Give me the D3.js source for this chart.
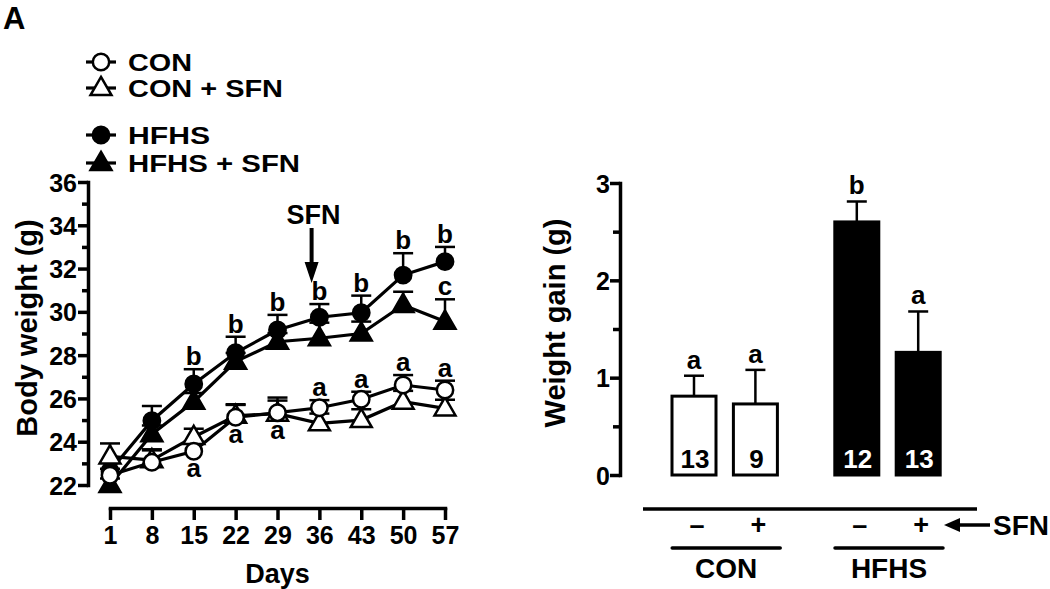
<!DOCTYPE html>
<html>
<head>
<meta charset="utf-8">
<script src="https://cdn.jsdelivr.net/npm/d3@7"></script>
<style>
  html, body { margin: 0; padding: 0; background: #fff; }
  svg { display: block; }
  text { font-family: "Liberation Sans", Arial, Helvetica, sans-serif; font-weight: bold; fill: #000; }
</style>
</head>
<body>
<svg id="chart" width="1050" height="589"></svg>
<script>
// ---------------- data ----------------
const days = [1, 8, 15, 22, 29, 36, 43, 50, 57];
const seriesNames = ["CON", "CON + SFN", "HFHS", "HFHS + SFN"];
const conMean     = [22.45, 23.05, 23.56, 25.13, 25.34, 25.57, 25.96, 26.62, 26.39];
const conErr      = [0.30, 0.60, 0.45, 0.60, 0.70, 0.35, 0.35, 0.46, 0.43];
const conSfnMean  = [23.32, 23.15, 24.22, 25.20, 25.30, 24.85, 25.00, 25.85, 25.54];
const conSfnErr   = [0.60, 0.45, 0.38, 0.50, 0.60, 0.45, 0.50, 0.50, 0.40];
const hfhsMean    = [22.65, 24.97, 26.67, 28.11, 29.16, 29.75, 29.96, 31.70, 32.32];
const hfhsErr     = [0.42, 0.68, 0.68, 0.74, 0.70, 0.61, 0.79, 1.01, 0.68];
const hfhsSfnMean = [22.00, 24.35, 25.85, 27.70, 28.62, 28.78, 29.00, 30.32, 29.55];
const hfhsSfnErr  = [0.30, 0.40, 0.40, 0.40, 0.40, 0.72, 0.55, 0.61, 1.03];
const bwTicks = [22, 24, 26, 28, 30, 32, 34, 36];
const bwMinorTicks = [23, 25, 27, 29, 31, 33, 35];
const sfnStartDay = 34.7;
const lettersAbove = [
  { s: 2, day: 15, t: "b" }, { s: 2, day: 22, t: "b" }, { s: 2, day: 29, t: "b" },
  { s: 2, day: 36, t: "b" }, { s: 2, day: 43, t: "b" }, { s: 2, day: 50, t: "b" },
  { s: 2, day: 57, t: "b" }, { s: 3, day: 57, t: "c" },
  { s: 0, day: 36, t: "a" }, { s: 0, day: 43, t: "a" }, { s: 0, day: 50, t: "a" },
  { s: 0, day: 57, t: "a" }
];
const lettersBelow = [ { s: 0, day: 15, t: "a" }, { s: 0, day: 22, t: "a" }, { s: 0, day: 29, t: "a" } ];

const barGroups = ["CON", "CON", "HFHS", "HFHS"];
const barSfn = ["\u2013", "+", "\u2013", "+"];
const gainMean = [0.81, 0.73, 2.60, 1.26];
const gainErr = [0.21, 0.35, 0.21, 0.42];
const barN = ["13", "9", "12", "13"];
const barLetters = ["a", "a", "b", "a"];
const gainTicks = [0, 1, 2, 3];
const gainMinorTicks = [0.5, 1.5, 2.5];

// ---------------- setup ----------------
const svg = d3.select("#chart");
const means = [conMean, conSfnMean, hfhsMean, hfhsSfnMean];
const errs = [conErr, conSfnErr, hfhsErr, hfhsSfnErr];
const filled = [false, false, true, true];
const shapes = [d3.symbolCircle, d3.symbolTriangle, d3.symbolCircle, d3.symbolTriangle];
const shapeSize = [210, 190, 210, 190];

svg.append("text").attr("x", 3).attr("y", 29).attr("font-size", 31).text("A");

// ---------------- left: body weight ----------------
const x = d3.scaleLinear().domain([1, 57]).range([110, 445]);
const y = d3.scaleLinear().domain([22, 36]).range([485, 182]);

const gL = svg.append("g");

function styleAxis(g, w) {
  g.select(".domain").attr("stroke", "#000").attr("stroke-width", w).attr("stroke-linecap", "square");
  g.selectAll(".tick line").attr("stroke", "#000").attr("stroke-width", w);
}

// y axis
const yAx = gL.append("g").attr("transform", "translate(88,0)")
  .call(d3.axisLeft(y).tickValues(bwTicks).tickSize(10).tickSizeOuter(0).tickPadding(1));
styleAxis(yAx, 3.5);
yAx.selectAll("text").attr("font-size", 25).attr("font-family", null).attr("dy", "0.36em");
const yAxMin = gL.append("g").attr("transform", "translate(88,0)")
  .call(d3.axisLeft(y).tickValues(bwMinorTicks).tickSize(6).tickFormat(""));
yAxMin.select(".domain").remove();
yAxMin.selectAll(".tick line").attr("stroke", "#000").attr("stroke-width", 3.5);

// x axis (offset)
const xAx = gL.append("g").attr("transform", "translate(0,508)")
  .call(d3.axisBottom(x).tickValues(days).tickSize(12).tickSizeOuter(0).tickPadding(6));
styleAxis(xAx, 3.5);
xAx.selectAll("text").attr("font-size", 25).attr("font-family", null);

gL.append("text").attr("x", (x(1) + x(57)) / 2).attr("y", 583).attr("text-anchor", "middle")
  .attr("font-size", 27).text("Days");
gL.append("text").attr("transform", "translate(37,328) rotate(-90)").attr("text-anchor", "middle")
  .attr("font-size", 29).text("Body weight (g)");

// error bars
const order = [3, 2, 1, 0];
order.forEach(s => {
  const g = gL.append("g");
  days.forEach((d, i) => {
    const yc = y(means[s][i]), ye = y(means[s][i] + errs[s][i]);
    g.append("line").attr("x1", x(d)).attr("x2", x(d)).attr("y1", yc).attr("y2", ye)
      .attr("stroke", "#000").attr("stroke-width", 2.5);
    g.append("line").attr("x1", x(d) - 10).attr("x2", x(d) + 10).attr("y1", ye).attr("y2", ye)
      .attr("stroke", "#000").attr("stroke-width", 2.5);
  });
});
// lines
const lineGen = d3.line().x(d => x(d[0])).y(d => y(d[1]));
order.forEach(s => {
  gL.append("path").datum(days.map((d, i) => [d, means[s][i]]))
    .attr("d", lineGen).attr("fill", "none").attr("stroke", "#000").attr("stroke-width", 3.2);
});
// markers
order.forEach(s => {
  gL.append("g").selectAll("path").data(days.map((d, i) => [d, means[s][i]])).join("path")
    .attr("transform", d => `translate(${x(d[0])},${y(d[1]) + (shapes[s] === d3.symbolTriangle ? 1 : 0)})`)
    .attr("d", d3.symbol().type(shapes[s]).size(shapeSize[s]))
    .attr("fill", filled[s] ? "#000" : "#fff").attr("stroke", "#000").attr("stroke-width", 2.5);
});
// significance letters
gL.append("g").selectAll("text").data(lettersAbove).join("text")
  .attr("x", d => x(d.day)).attr("text-anchor", "middle").attr("font-size", 26)
  .attr("y", d => { const i = days.indexOf(d.day); return y(means[d.s][i] + errs[d.s][i]) - 4; })
  .text(d => d.t);
gL.append("g").selectAll("text").data(lettersBelow).join("text")
  .attr("x", d => x(d.day)).attr("text-anchor", "middle").attr("font-size", 26)
  .attr("y", d => { const i = days.indexOf(d.day); return y(means[d.s][i]) + 26; })
  .text(d => d.t);

// SFN arrow
const ax = x(sfnStartDay);
gL.append("text").attr("x", ax + 2).attr("y", 224).attr("text-anchor", "middle").attr("font-size", 27).text("SFN");
gL.append("line").attr("x1", ax).attr("x2", ax).attr("y1", 228).attr("y2", 264)
  .attr("stroke", "#000").attr("stroke-width", 4);
gL.append("path").attr("d", `M${ax - 7},262 L${ax + 7},262 L${ax},283 Z`).attr("fill", "#000");

// legend
const legY = [62, 88, 135, 163];
const legW = [64, 155, 82, 172];
seriesNames.forEach((name, s) => {
  const g = gL.append("g").attr("transform", `translate(101,${legY[s]})`);
  g.append("line").attr("x1", -15).attr("x2", 15).attr("stroke", "#000").attr("stroke-width", 3.2);
  g.append("path").attr("d", d3.symbol().type(shapes[s]).size(shapeSize[s])())
    .attr("transform", shapes[s] === d3.symbolTriangle ? "translate(0,1)" : null)
    .attr("fill", filled[s] ? "#000" : "#fff").attr("stroke", "#000").attr("stroke-width", 2.5);
  g.append("text").attr("x", 27).attr("y", 9).attr("font-size", 24)
    .attr("textLength", legW[s]).attr("lengthAdjust", "spacingAndGlyphs").text(name);
});

// ---------------- right: weight gain ----------------
const y2 = d3.scaleLinear().domain([0, 3]).range([475, 183]);
const groups = ["CON", "HFHS"];
const xg = d3.scalePoint().domain(groups).range([724.7, 887.5]);
const xs = d3.scalePoint().domain(["\u2013", "+"]).range([-30.7, 30.7]);
const barW = 44;
const bx = i => xg(barGroups[i]) + xs(barSfn[i]);

const gR = svg.append("g");
const y2Ax = gR.append("g").attr("transform", "translate(620,0)")
  .call(d3.axisLeft(y2).tickValues(gainTicks).tickSize(10).tickSizeOuter(0).tickPadding(0).tickFormat(d3.format("d")));
styleAxis(y2Ax, 3.5);
y2Ax.selectAll("text").attr("font-size", 25).attr("font-family", null).attr("dy", "0.36em");
const y2Min = gR.append("g").attr("transform", "translate(620,0)")
  .call(d3.axisLeft(y2).tickValues(gainMinorTicks).tickSize(7).tickFormat(""));
y2Min.select(".domain").remove();
y2Min.selectAll(".tick line").attr("stroke", "#000").attr("stroke-width", 3.5);

gR.append("text").attr("transform", "translate(565,323) rotate(-90)").attr("text-anchor", "middle")
  .attr("font-size", 29).text("Weight gain (g)");

gainMean.forEach((m, i) => {
  const cx = bx(i);
  const ye = y2(m + gainErr[i]);
  gR.append("line").attr("x1", cx).attr("x2", cx).attr("y1", y2(m)).attr("y2", ye)
    .attr("stroke", "#000").attr("stroke-width", 2.5);
  gR.append("line").attr("x1", cx - 10).attr("x2", cx + 10).attr("y1", ye).attr("y2", ye)
    .attr("stroke", "#000").attr("stroke-width", 2.5);
  const dark = barGroups[i] === "HFHS";
  gR.append("rect").attr("x", cx - barW / 2).attr("y", y2(m)).attr("width", barW).attr("height", y2(0) - y2(m))
    .attr("fill", dark ? "#000" : "#fff").attr("stroke", "#000").attr("stroke-width", 3);
  gR.append("text").attr("x", cx + 1).attr("y", 468).attr("text-anchor", "middle").attr("font-size", 26)
    .style("fill", dark ? "#fff" : "#000").text(barN[i]);
  gR.append("text").attr("x", cx).attr("y", ye - 7).attr("text-anchor", "middle").attr("font-size", 26)
    .text(barLetters[i]);
});

// bottom annotation
gR.append("line").attr("x1", 643).attr("x2", 977).attr("y1", 509).attr("y2", 509)
  .attr("stroke", "#000").attr("stroke-width", 3.5);
barSfn.forEach((s, i) => {
  gR.append("text").attr("x", bx(i) + 3).attr("y", 534).attr("text-anchor", "middle").attr("font-size", 27).text(s);
});
groups.forEach(gname => {
  const c = xg(gname) + 1.5;
  gR.append("line").attr("x1", c - 54).attr("x2", c + 54).attr("y1", 548).attr("y2", 548)
    .attr("stroke", "#000").attr("stroke-width", 3.5).attr("stroke-linecap", "round");
  gR.append("text").attr("x", c).attr("y", 578).attr("text-anchor", "middle").attr("font-size", 28).text(gname);
});
gR.append("line").attr("x1", 955).attr("x2", 990).attr("y1", 525).attr("y2", 525)
  .attr("stroke", "#000").attr("stroke-width", 3.5);
gR.append("path").attr("d", "M944,525 L960,518 L960,532 Z").attr("fill", "#000");
gR.append("text").attr("x", 993).attr("y", 535).attr("font-size", 28).text("SFN");
</script>
</body>
</html>
